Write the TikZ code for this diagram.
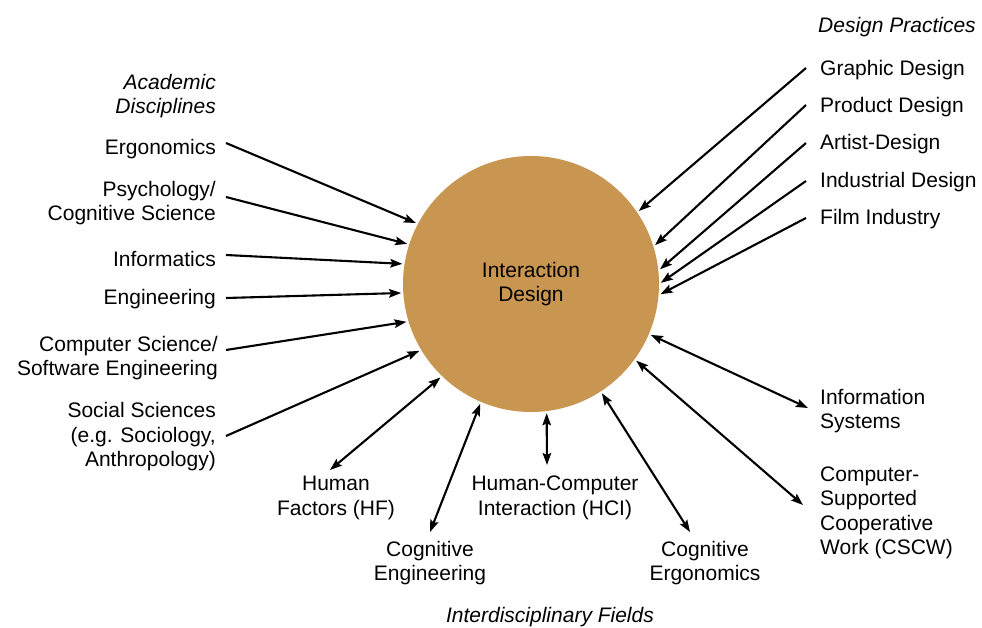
\documentclass[tikz,border=0pt]{standalone}
\usepackage{fontspec}
\setmainfont{Liberation Sans}
\usetikzlibrary{arrows.meta}
\definecolor{idtan}{RGB}{201,150,82}
\begin{document}
\begin{tikzpicture}[x=1pt,y=-1pt,
  lbl/.style={font=\fontsize{21}{24.5}\selectfont, inner sep=0pt},
  lft/.style={lbl, anchor=east, align=right},
  rgt/.style={lbl, anchor=west, align=left},
  ctr/.style={lbl, anchor=center, align=center},
  hd/.style={font=\fontsize{21}{24.5}\selectfont\itshape, inner sep=0pt},
  arr/.style={-{Stealth[length=12pt,width=8.5pt,inset=2pt]}, line width=2.1pt, shorten >=2pt},
  darr/.style={{Stealth[length=12pt,width=8.5pt,inset=2pt]}-{Stealth[length=12pt,width=8.5pt,inset=2pt]}, line width=2.1pt, shorten <=2pt}]
\useasboundingbox (0,0) rectangle (982,628);
\fill[white] (0,0) rectangle (982,628);

\node[circle, fill=idtan, minimum size=256pt, inner sep=0pt, font=\fontsize{21}{24.5}\selectfont, align=center] (c) at (531,284) {Interaction\\Design};

% headings
\node[hd, anchor=east, align=right] (hacad) at (216,96) {Academic\\Disciplines};
\node[hd, anchor=west] (hdes) at (818,27) {Design Practices};
\node[hd, anchor=center] (hinter) at (550,617) {Interdisciplinary Fields};

% academic disciplines
\node[lft] (ergo) at (216,149) {Ergonomics};
\node[lft] (psy) at (216,203) {Psychology/\\Cognitive Science};
\node[lft] (inf) at (216,259) {Informatics};
\node[lft] (eng) at (216,299) {Engineering};
\node[lft] (cs) at (218,358) {Computer Science/\\Software Engineering};
\node[lft] (soc) at (216,437) {Social Sciences\\(e.g. Sociology,\\Anthropology)};

% design practices
\node[rgt] (gd) at (820,70) {Graphic Design};
\node[rgt] (pd) at (820,107) {Product Design};
\node[rgt] (ad) at (820,144) {Artist-Design};
\node[rgt] (idd) at (820,182) {Industrial Design};
\node[rgt] (film) at (820,219) {Film Industry};

% interdisciplinary fields
\node[ctr] (hf) at (336,498) {Human\\Factors (HF)};
\node[ctr] (ce) at (430,563) {Cognitive\\Engineering};
\node[ctr] (hci) at (555,498) {Human-Computer\\Interaction (HCI)};
\node[ctr] (cerg) at (705,563) {Cognitive\\Ergonomics};
\node[rgt] (is) at (820,411) {Information\\Systems};
\node[rgt] (cscw) at (820,513) {Computer-\\Supported\\Cooperative\\Work (CSCW)};

% free ends
\coordinate (s1) at (226,143);
\coordinate (s2) at (226,197);
\coordinate (s3) at (226,255);
\coordinate (s4) at (226,298);
\coordinate (s5) at (226,350);
\coordinate (s6) at (226,436);
\coordinate (g1) at (806,68);
\coordinate (g2) at (806,105);
\coordinate (g3) at (806,143);
\coordinate (g4) at (806,181);
\coordinate (g5) at (806,218);
\coordinate (f1) at (330,470);
\coordinate (f2) at (430,532);
\coordinate (f3) at (547,465);
\coordinate (f4) at (690,532);
\coordinate (f5) at (808,408);
\coordinate (f6) at (803,505);

\draw[arr] (s1) -- (c.152);
\draw[arr] (s2) -- (c.162);
\draw[arr] (s3) -- (c.171);
\draw[arr] (s4) -- (c.184);
\draw[arr] (s5) -- (c.197);
\draw[arr] (s6) -- (c.211);

\draw[arr] (g1) -- (c.34);
\draw[arr] (g2) -- (c.17);
\draw[arr] (g3) -- (c.6);
\draw[arr] (g4) -- (c.0);
\draw[arr] (g5) -- (c.-5);

\draw[darr] (c.226) -- (f1);
\draw[darr] (c.247) -- (f2);
\draw[darr] (c.277) -- (f3);
\draw[darr] (c.303) -- (f4);
\draw[darr] (c.337) -- (f5);
\draw[darr] (c.324) -- (f6);
\end{tikzpicture}
\end{document}
